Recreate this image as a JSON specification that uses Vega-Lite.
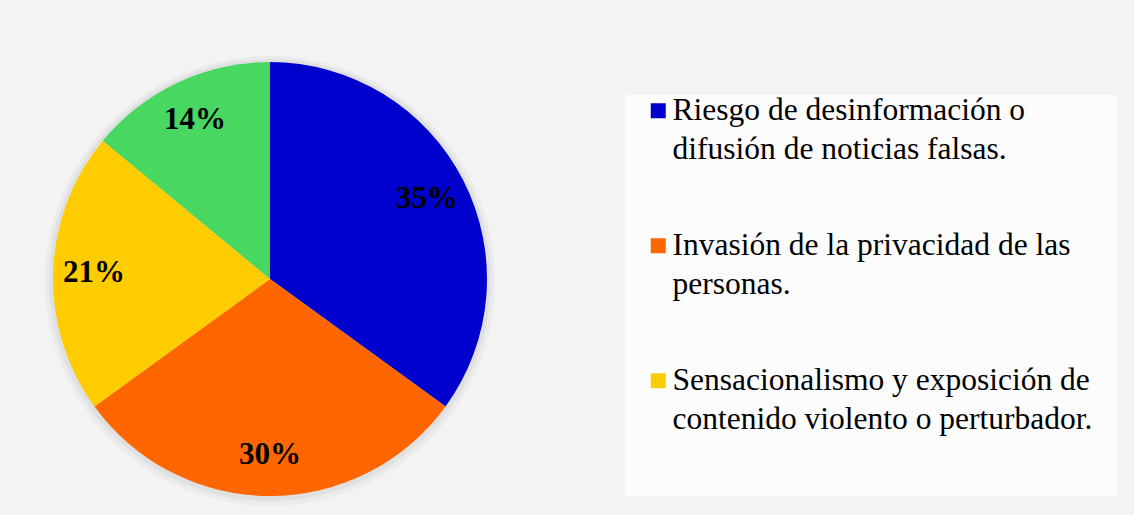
{
  "$schema": "https://vega.github.io/schema/vega-lite/v6.json",
  "width": 540,
  "height": 434,
  "autosize": {"type": "none"},
  "padding": {"left": 0, "top": 62, "right": 594, "bottom": 19},
  "background": "#f3f3f3",
  "config": {"view": {"stroke": null}},
  "data": {
    "values": [
      {"categoria": "Riesgo de desinformación o difusión de noticias falsas.", "porcentaje": 0.35},
      {"categoria": "Invasión de la privacidad de las personas.", "porcentaje": 0.30},
      {"categoria": "Sensacionalismo y exposición de contenido violento o perturbador.", "porcentaje": 0.21},
      {"categoria": "Otros", "porcentaje": 0.14}
    ]
  },
  "encoding": {
    "theta": {"field": "porcentaje", "type": "quantitative", "stack": true},
    "order": {"field": "porcentaje", "type": "quantitative", "sort": "descending"}
  },
  "layer": [
    {
      "mark": {"type": "arc", "radius": 225, "color": "#000000", "opacity": 0.03, "yOffset": 2},
      "encoding": {}
    },
    {
      "mark": {"type": "arc", "radius": 221, "color": "#000000", "opacity": 0.045, "yOffset": 1},
      "encoding": {}
    },
    {
      "mark": {"type": "arc", "radius": 217},
      "encoding": {
        "color": {
          "field": "categoria",
          "type": "nominal",
          "sort": null,
          "scale": {
            "domain": [
              "Riesgo de desinformación o difusión de noticias falsas.",
              "Invasión de la privacidad de las personas.",
              "Sensacionalismo y exposición de contenido violento o perturbador.",
              "Otros"
            ],
            "range": ["#0000CC", "#FF6600", "#FFCC00", "#48D760"]
          },
          "legend": {
            "values": [
              "Riesgo de desinformación o difusión de noticias falsas.",
              "Invasión de la privacidad de las personas.",
              "Sensacionalismo y exposición de contenido violento o perturbador."
            ],
            "labelExpr": "datum.label == 'Riesgo de desinformación o difusión de noticias falsas.' ? ['Riesgo de desinformación o', 'difusión de noticias falsas.'] : datum.label == 'Invasión de la privacidad de las personas.' ? ['Invasión de la privacidad de las', 'personas.'] : ['Sensacionalismo y exposición de', 'contenido violento o perturbador.']",
            "orient": "none",
            "direction": "vertical",
            "legendX": 625,
            "legendY": 33,
            "padding": 0,
            "fillColor": "#fcfcfc",
            "symbolType": "square",
            "symbolSize": 225,
            "symbolStrokeWidth": 0,
            "symbolOffset": 17.5,
            "labelOffset": -1.5,
            "labelFont": "Liberation Serif",
            "labelFontSize": 31.5,
            "labelColor": "#000000",
            "labelLimit": 700,
            "rowPadding": 63,
            "title": "MMMMMMMMMMMMMMMMMMMMMMMMMMMMMMMMMMMMMMMMMMMMMMMMMMMMMMMMMMMMMMMMMMMM",
            "titleOrient": "bottom",
            "titleFont": "DejaVu Sans Mono",
            "titleFontSize": 12,
            "titleLimit": 1000,
            "titleOpacity": 0,
            "titlePadding": 50,
            "encode": {
              "labels": {"update": {"lineHeight": {"value": 39}}}
            }
          }
        }
      }
    },
    {
      "mark": {"type": "text", "radius": 176, "font": "Liberation Serif", "fontSize": 31, "fontWeight": "bold", "color": "#000000"},
      "encoding": {
        "text": {"field": "porcentaje", "type": "quantitative", "format": ".0%"}
      }
    }
  ]
}
